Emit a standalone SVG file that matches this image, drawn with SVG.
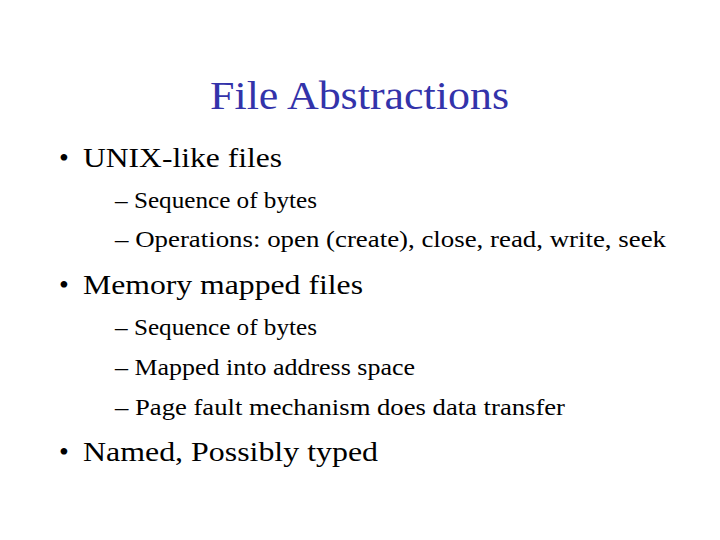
<svg xmlns="http://www.w3.org/2000/svg" width="720" height="540" viewBox="0 0 720 540">
<style>
text{font-family:"Liberation Serif","Times New Roman",serif;fill:#000}
.t{font-size:41px;fill:#3333aa}
.b{font-size:28px}
.s{font-size:24px}
</style>
<rect width="720" height="540" fill="#fff"/>
<g id="title"><text class="t" x="210" y="109" textLength="299" lengthAdjust="spacingAndGlyphs">File Abstractions</text></g>
<g id="item1">
<text class="b" x="59" y="167">•</text><text class="b" x="83" y="167" textLength="199" lengthAdjust="spacingAndGlyphs">UNIX-like files</text>
<text class="s" x="115" y="208" textLength="202" lengthAdjust="spacingAndGlyphs">– Sequence of bytes</text>
<text class="s" x="115" y="247" textLength="551" lengthAdjust="spacingAndGlyphs">– Operations: open (create), close, read, write, seek</text>
</g>
<g id="item2">
<text class="b" x="59" y="294">•</text><text class="b" x="83" y="294" textLength="280" lengthAdjust="spacingAndGlyphs">Memory mapped files</text>
<text class="s" x="115" y="335" textLength="202" lengthAdjust="spacingAndGlyphs">– Sequence of bytes</text>
<text class="s" x="115" y="375" textLength="300" lengthAdjust="spacingAndGlyphs">– Mapped into address space</text>
<text class="s" x="115" y="415" textLength="450" lengthAdjust="spacingAndGlyphs">– Page fault mechanism does data transfer</text>
</g>
<g id="item3">
<text class="b" x="59" y="461">•</text><text class="b" x="83" y="461" textLength="295" lengthAdjust="spacingAndGlyphs">Named, Possibly typed</text>
</g>
</svg>
